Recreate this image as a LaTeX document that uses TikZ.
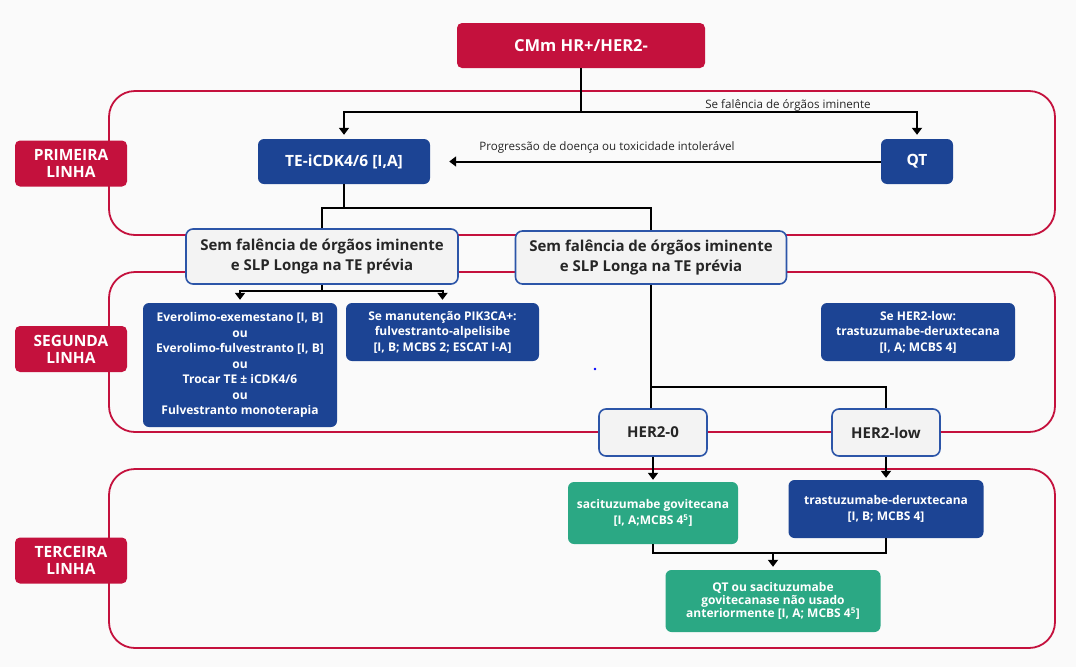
\documentclass[tikz,border=0pt]{standalone}
\usepackage{fontspec}
\setmainfont{Open Sans}
\usetikzlibrary{positioning}
\usetikzlibrary{arrows.meta}
\definecolor{crim}{HTML}{C4113D}
\definecolor{navy}{HTML}{1C4494}
\definecolor{jade}{HTML}{2BA884}
\definecolor{pale}{HTML}{F3F3F3}
\definecolor{paper}{HTML}{FAFAFA}
\definecolor{rim}{HTML}{2C55A8}
\definecolor{ink}{HTML}{262626}
\begin{document}
\begin{tikzpicture}[x=1pt,y=-1pt,
    frame/.style={draw=crim,line width=1.8,rounded corners=26},
    tag/.style={fill=crim,text=white,rounded corners=5,align=center,inner sep=0,minimum width=112,minimum height=46,font=\bfseries\fontsize{15.5}{17}\selectfont},
    bluebox/.style={fill=navy,text=white,rounded corners=6,align=center,inner sep=0,font=\bfseries\fontsize{12}{15.5}\selectfont},
    greenbox/.style={bluebox,fill=jade},
    greybox/.style={fill=pale,draw=rim,line width=1.6,rounded corners=7,text=ink,align=center,inner sep=0,font=\bfseries\fontsize{15}{19.5}\selectfont},
    note/.style={text=ink,font=\fontsize{11.6}{13}\selectfont},
    link/.style={line width=2},
    arr/.style={link,-{Triangle[width=10pt,length=7pt]},shorten >=4}]
        \fill[paper] (0,0) rectangle (1076,667);
        \useasboundingbox (0,0) rectangle (1076,667);
        % the three bands
        \draw[frame] (109,91) rectangle (1055,235);
        \draw[frame] (109,272) rectangle (1055,432);
        \draw[frame] (109,469) rectangle (1055,648);
        \node[tag] (lab1) at (71,163.5) {PRIMEIRA\\LINHA};
        \node[tag] (lab2) at (71,349) {SEGUNDA\\LINHA};
        \node[tag] (lab3) at (71,560.5) {TERCEIRA\\LINHA};
        % first line
        \node[tag,minimum width=248,minimum height=45,font=\bfseries\fontsize{16.5}{18}\selectfont] (cmm) at (581,45.5) {CMm HR+/HER2-};
        \node[bluebox,minimum width=172,minimum height=45,font=\bfseries\fontsize{15.5}{18}\selectfont] (te) at (344,161.5) {TE-iCDK4/6 [I,A]};
        \node[bluebox,minimum width=72,minimum height=45,font=\bfseries\fontsize{15.5}{18}\selectfont] (qt) at (917,161.5) {QT};
        \node[greybox,minimum width=272,minimum height=55] (semA) at (322,256.5) {Sem falência de órgãos iminente\\e SLP Longa na TE prévia};
        \node[greybox,minimum width=271,minimum height=53] (semB) at (651,257.5) {Sem falência de órgãos iminente\\e SLP Longa na TE prévia};
        \node[note] (ifqt) at (788,105) {Se falência de órgãos iminente};
        \node[note] (prog) at (607,147) {Progressão de doença ou toxicidade intolerável};
        \draw[link] (cmm.south) -- ++(0,44) coordinate (fork1);
        \draw[arr] (fork1) -| (te.north);
        \draw[arr] (fork1) -| (qt.north);
        \draw[arr,shorten >=19] (qt.west) -- (te.east);
        \draw[link,line width=2.6] (te.south) -- ++(0,24) coordinate (fork2);
        \draw[link] (fork2) -| (semA.north);
        \draw[link] (fork2) -| (semB.north);
        % second line
        \node[bluebox,minimum width=194,minimum height=124] (evero) at (240,365) {Everolimo-exemestano [I, B]\\ou\\Everolimo-fulvestranto [I, B]\\ou\\Trocar TE ± iCDK4/6\\ou\\Fulvestranto monoterapia};
        \node[bluebox,minimum width=193,minimum height=58] (pik) at (442.5,332) {Se manutenção PIK3CA+:\\fulvestranto-alpelisibe\\{}[I, B; MCBS 2; ESCAT I-A]};
        \node[bluebox,minimum width=194,minimum height=58] (hlow) at (918,332) {Se HER2-low:\\trastuzumabe-deruxtecana\\{}[I, A; MCBS 4]};
        \fill[blue] (595,369) circle (1.3);
        \node[greybox,minimum width=108,minimum height=47] (her0) at (653,432.5) {HER2-0};
        \node[greybox,minimum width=108,minimum height=47] (herlow) at (886,432.5) {HER2-low};
        \draw[link] (semA.south) -- ++(0,6) coordinate (fork3);
        \draw[arr,shorten >=3] (fork3) -| (evero.north);
        \draw[arr,shorten >=3] (fork3) -| (pik.north);
        \draw[link] (semB.south) -- (semB.south |- her0.north);
        \draw[link] (semB.south |- 0,387) -| (herlow.north);
        % third line
        \node[greenbox,minimum width=170,minimum height=62] (saci) at (653,513) {sacituzumabe govitecana\\{}[I, A;MCBS 4\textsuperscript{5}]};
        \node[bluebox,minimum width=195,minimum height=58] (trast) at (886,509) {trastuzumabe-deruxtecana\\{}[I, B; MCBS 4]};
        \node[greenbox,minimum width=215,minimum height=62,font=\bfseries\fontsize{12}{13}\selectfont] (qtsaci) at (773,601) {QT ou sacituzumabe\\govitecanase não usado\\anteriormente [I, A; MCBS 4\textsuperscript{5}]};
        \draw[arr,shorten >=2] (her0) -- (saci);
        \draw[arr,shorten >=2] (herlow) -- (trast);
        \coordinate (merge) at (qtsaci.north |- 0,553);
        \draw[link] (saci.south) |- (merge) -| (trast.south);
        \draw[arr,shorten >=3] (merge) -- (qtsaci.north);
\end{tikzpicture}
\end{document}
